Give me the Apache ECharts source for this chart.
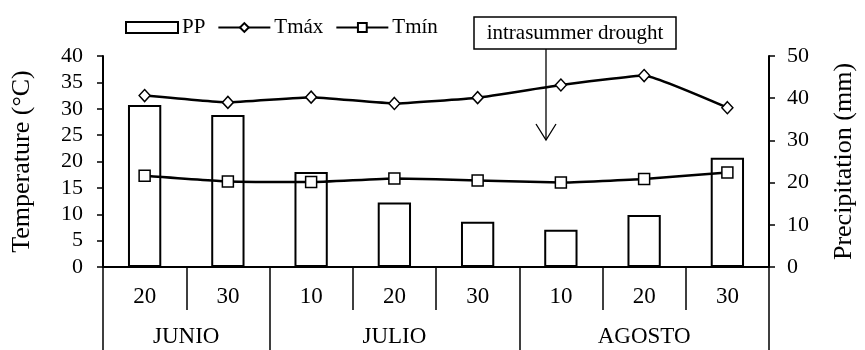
<!DOCTYPE html>
<html>
<head>
<meta charset="utf-8">
<script src="https://cdn.jsdelivr.net/npm/echarts@6/dist/echarts.min.js"></script>
<style>
  html, body { margin: 0; padding: 0; background: #fff; }
  #chart { width: 865px; height: 350px; }
</style>
</head>
<body>
<div id="chart"></div>
<script>
// Ten-day periods (dekads) and the months they belong to
const dekads = ['20', '30', '10', '20', '30', '10', '20', '30'];
const months = ['JUNIO', 'JULIO', 'AGOSTO'];
const dekadsPerMonth = [2, 3, 3];

// Series values per dekad
const precipitation = [38.4, 36.0, 22.5, 15.3, 10.7, 8.8, 12.3, 25.9]; // mm
const tMax = [32.5, 31.2, 32.2, 31.0, 32.1, 34.5, 36.3, 30.2];         // °C
const tMin = [17.3, 16.2, 16.1, 16.8, 16.4, 16.0, 16.7, 17.9];         // °C

// Axis ranges: [min, max, interval]
const tempAxis = [0, 40, 5];
const precipAxis = [0, 50, 10];

// Month boundaries and centres in dekad units
const monthEdges = [0];
dekadsPerMonth.forEach(n => monthEdges.push(monthEdges[monthEdges.length - 1] + n));
const monthCentres = months.map((m, i) => (monthEdges[i] + monthEdges[i + 1]) / 2);

const FONT = "'Liberation Serif', 'Times New Roman', serif";
const BLACK = '#000';

const chart = echarts.init(document.getElementById('chart'), null, { renderer: 'canvas' });

chart.setOption({
  animation: false,
  backgroundColor: '#fff',
  textStyle: { fontFamily: FONT, color: BLACK },
  grid: { left: 103, right: 86, top: 56, bottom: 83, containLabel: false },
  legend: {
    left: 120,
    top: 12,
    itemWidth: 52,
    itemHeight: 11,
    itemGap: 12,
    textStyle: { fontFamily: FONT, fontSize: 21, color: BLACK, padding: [0, 0, 0, -1] },
    data: [
      { name: 'PP', icon: 'rect' },
      { name: 'Tmáx' },
      { name: 'Tmín' }
    ]
  },
  xAxis: [
    {
      type: 'category',
      data: dekads,
      position: 'bottom',
      axisLine: { lineStyle: { color: BLACK, width: 2 } },
      axisTick: { show: true, length: 43, lineStyle: { color: BLACK, width: 1.5 } },
      axisLabel: { fontFamily: FONT, fontSize: 23, color: BLACK, margin: 18 },
      splitLine: { show: false }
    },
    {
      type: 'value',
      min: 0,
      max: monthEdges[monthEdges.length - 1],
      position: 'bottom',
      axisLine: { show: false },
      axisTick: {
        show: true,
        length: 84,
        customValues: monthEdges,
        lineStyle: { color: BLACK, width: 1.5 }
      },
      axisLabel: {
        show: true,
        customValues: monthCentres,
        fontFamily: FONT,
        fontSize: 23,
        color: BLACK,
        margin: 58,
        formatter: v => months[monthCentres.indexOf(v)] || ''
      },
      splitLine: { show: false }
    }
  ],
  yAxis: [
    {
      type: 'value',
      position: 'left',
      min: tempAxis[0], max: tempAxis[1], interval: tempAxis[2],
      name: 'Temperature (°C)',
      nameLocation: 'middle',
      nameGap: 68,
      nameTextStyle: { fontFamily: FONT, fontSize: 26, color: BLACK },
      axisLine: { show: true, lineStyle: { color: BLACK, width: 2 } },
      axisTick: { show: true, length: 6, lineStyle: { color: BLACK, width: 1.5 } },
      axisLabel: { fontFamily: FONT, fontSize: 22, color: BLACK, margin: 20 },
      splitLine: { show: false }
    },
    {
      type: 'value',
      position: 'right',
      min: precipAxis[0], max: precipAxis[1], interval: precipAxis[2],
      name: 'Precipitation (mm)',
      nameLocation: 'middle',
      nameGap: 62,
      nameTextStyle: { fontFamily: FONT, fontSize: 26, color: BLACK },
      axisLine: { show: true, lineStyle: { color: BLACK, width: 2 } },
      axisTick: { show: true, length: 6, lineStyle: { color: BLACK, width: 1.5 } },
      axisLabel: { fontFamily: FONT, fontSize: 22, color: BLACK, margin: 18 },
      splitLine: { show: false }
    }
  ],
  series: [
    {
      name: 'PP',
      type: 'bar',
      xAxisIndex: 0,
      yAxisIndex: 1,
      data: precipitation,
      barWidth: '40%',
      itemStyle: { color: '#fff', borderColor: BLACK, borderWidth: 2 },
      z: 1
    },
    {
      name: 'Tmáx',
      type: 'line',
      xAxisIndex: 0,
      yAxisIndex: 0,
      data: tMax,
      smooth: 0.1,
      symbol: 'diamond',
      symbolSize: [11, 12],
      showAllSymbol: true,
      lineStyle: { color: BLACK, width: 2.5 },
      itemStyle: { color: '#fff', borderColor: BLACK, borderWidth: 1.5 },
      z: 3
    },
    {
      name: 'Tmín',
      type: 'line',
      xAxisIndex: 0,
      yAxisIndex: 0,
      data: tMin,
      smooth: 0.1,
      symbol: 'rect',
      symbolSize: 11,
      showAllSymbol: true,
      lineStyle: { color: BLACK, width: 2.5 },
      itemStyle: { color: '#fff', borderColor: BLACK, borderWidth: 1.5 },
      z: 3
    }
  ],
  graphic: [
    {
      type: 'group',
      z: 10,
      children: [
        {
          type: 'rect',
          shape: { x: 474, y: 17, width: 202, height: 32 },
          style: { fill: '#fff', stroke: BLACK, lineWidth: 1.5 }
        },
        {
          type: 'text',
          x: 575, y: 33,
          style: {
            text: 'intrasummer drought',
            font: "21px 'Liberation Serif', 'Times New Roman', serif",
            fill: BLACK,
            align: 'center',
            verticalAlign: 'middle'
          }
        },
        {
          type: 'line',
          shape: { x1: 546, y1: 49, x2: 546, y2: 140 },
          style: { stroke: BLACK, lineWidth: 1.3 }
        },
        {
          type: 'polyline',
          shape: { points: [[536, 124], [546, 140], [556, 124]] },
          style: { stroke: BLACK, lineWidth: 1.3, fill: null }
        }
      ]
    }
  ]
});
</script>
</body>
</html>
